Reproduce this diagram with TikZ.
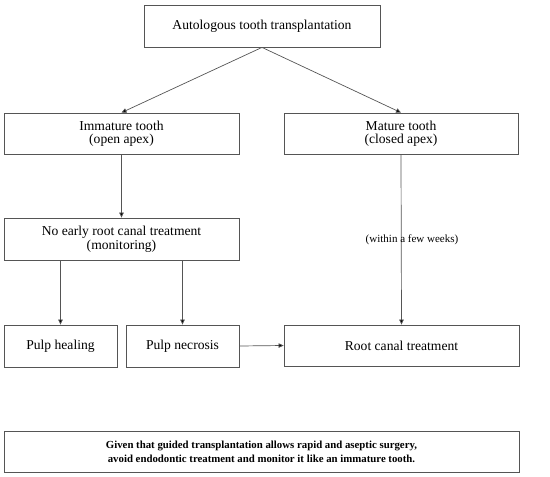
\documentclass[tikz,border=0pt]{standalone}
\usepackage{fontspec}
\setmainfont{Liberation Serif}
\usetikzlibrary{arrows.meta}
\definecolor{ln}{HTML}{555555}
\tikzset{
  box/.style={draw=ln, line width=0.8pt, rectangle, align=center, inner sep=0pt, font=\fontsize{13.6}{13.5}\selectfont, text=black},
  arr/.style={draw=ln, line width=0.7pt, -{Triangle[length=5pt,width=4.5pt,fill=black]}},
}
\begin{document}
\begin{tikzpicture}[x=1pt,y=-1pt]
\useasboundingbox (0,0) rectangle (550,477);
\node[box, minimum width=236pt, minimum height=42pt] (top) at (262,26) {Autologous tooth transplantation};
\node[box, minimum width=235pt, minimum height=41pt] (imm) at (121.5,133.5) {Immature tooth\\(open apex)};
\node[box, minimum width=234pt, minimum height=41pt] (mat) at (401,133.5) {Mature tooth\\(closed apex)};
\node[box, minimum width=235pt, minimum height=42pt] (noe) at (121.5,239) {No early root canal treatment\\(monitoring)};
\node[box, minimum width=113pt, minimum height=42pt] (heal) at (60.5,346) {Pulp healing};
\node[box, minimum width=113pt, minimum height=42pt] (nec) at (182.5,346) {Pulp necrosis};
\node[box, minimum width=235pt, minimum height=41pt] (rct) at (401.5,345.5) {Root canal treatment};
\node[box, minimum width=515pt, minimum height=41pt, font=\bfseries\fontsize{10.8}{14}\selectfont] (note) at (261.5,451.5) {Given that guided transplantation allows rapid and aseptic surgery,\\avoid endodontic treatment and monitor it like an immature tooth.};
\coordinate (tb) at (top.south);
\draw[arr] (tb) -- (imm.north);
\draw[arr] (tb) -- (mat.north);
\draw[arr] (imm.south) -- (noe.north);
\draw[arr] (noe.south -| heal.north) -- (heal.north);
\draw[arr] (noe.south -| nec.north) -- (nec.north);
\draw[arr] (mat.south) -- (rct.north);
\draw[arr] (nec.east) -- (rct.west);
\node[font=\fontsize{11}{11}\selectfont, inner sep=0pt] (lab) at (412,240) {(within a few weeks)};
\end{tikzpicture}
\end{document}
